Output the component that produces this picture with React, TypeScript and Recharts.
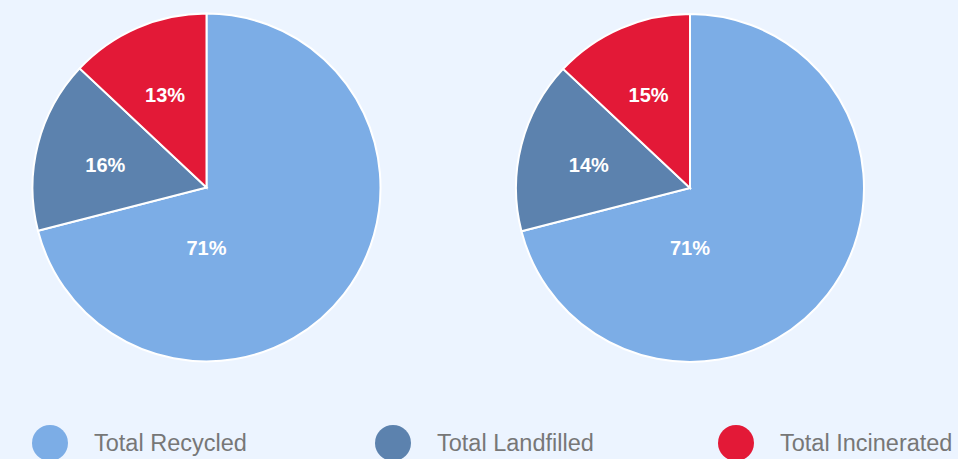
import React from 'react';
import { PieChart, Pie, Cell } from 'recharts';

// Categorías y colores
const categories = ['Total Recycled', 'Total Landfilled', 'Total Incinerated'];
const colors = ['#7CADE6', '#5C82AE', '#E31937'];

const leftValues = [71, 16, 13];
const rightValues = [71, 16, 13];

// Etiquetas tal como aparecen en cada gráfico
const leftLabels = ['71%', '16%', '13%'];
const rightLabels = ['71%', '14%', '15%'];

const FONT = "Arial, 'Liberation Sans', sans-serif";
const RADIAN = Math.PI / 180;

const buildData = (values: number[]) =>
  values.map((v, i) => ({ name: categories[i], value: v, color: colors[i] }));

const makeLabel = (labels: string[]) => (props: any) => {
  const { cx, cy, midAngle, outerRadius, percent, index } = props;
  // porciones grandes: etiqueta bajo el centro; pequeñas: en el ángulo medio
  const angle = percent > 0.5 ? -90 : midAngle;
  const r = percent > 0.5 ? outerRadius * 0.345 : outerRadius * 0.6;
  const x = cx + r * Math.cos(-angle * RADIAN);
  const y = cy + r * Math.sin(-angle * RADIAN) + (percent > 0.5 ? 0 : 3);
  return (
    <text
      x={x}
      y={y}
      fill="#fff"
      textAnchor="middle"
      dominantBaseline="central"
      fontSize={20}
      fontWeight="bold"
      fontFamily={FONT}
    >
      {labels[index]}
    </text>
  );
};

const App: React.FC = () => {
  const leftData = buildData(leftValues);
  const rightData = buildData(rightValues);

  return (
    <div style={{ position: 'relative', width: 958, height: 459, background: '#ECF4FF', overflow: 'hidden' }}>
      <style>{`body{margin:0}`}</style>
      <PieChart width={958} height={390} margin={{ top: 0, right: 0, bottom: 0, left: 0 }}>
        <Pie
          data={leftData}
          dataKey="value"
          cx={206.5}
          cy={187.5}
          outerRadius={174}
          startAngle={90}
          endAngle={-270}
          stroke="#fff"
          strokeWidth={2}
          labelLine={false}
          label={makeLabel(leftLabels)}
          isAnimationActive={false}
        >
          {leftData.map((entry, i) => (
            <Cell key={`l-${i}`} fill={entry.color} />
          ))}
        </Pie>
        <Pie
          data={rightData}
          dataKey="value"
          cx={690}
          cy={188}
          outerRadius={174}
          startAngle={90}
          endAngle={-270}
          stroke="#fff"
          strokeWidth={2}
          labelLine={false}
          label={makeLabel(rightLabels)}
          isAnimationActive={false}
        >
          {rightData.map((entry, i) => (
            <Cell key={`r-${i}`} fill={entry.color} />
          ))}
        </Pie>
      </PieChart>
      {/* Leyenda */}
      {categories.map((c, i) => (
        <div
          key={c}
          style={{
            position: 'absolute',
            left: 32 + i * 343,
            top: 425,
            display: 'flex',
            alignItems: 'center',
            height: 36,
          }}
        >
          <span
            style={{
              width: 36,
              height: 36,
              borderRadius: '50%',
              background: colors[i],
              display: 'inline-block',
            }}
          />
          <span style={{ marginLeft: 26, fontFamily: FONT, fontSize: 23.5, color: '#777777', whiteSpace: 'nowrap' }}>
            {c}
          </span>
        </div>
      ))}
    </div>
  );
};

export default App;
